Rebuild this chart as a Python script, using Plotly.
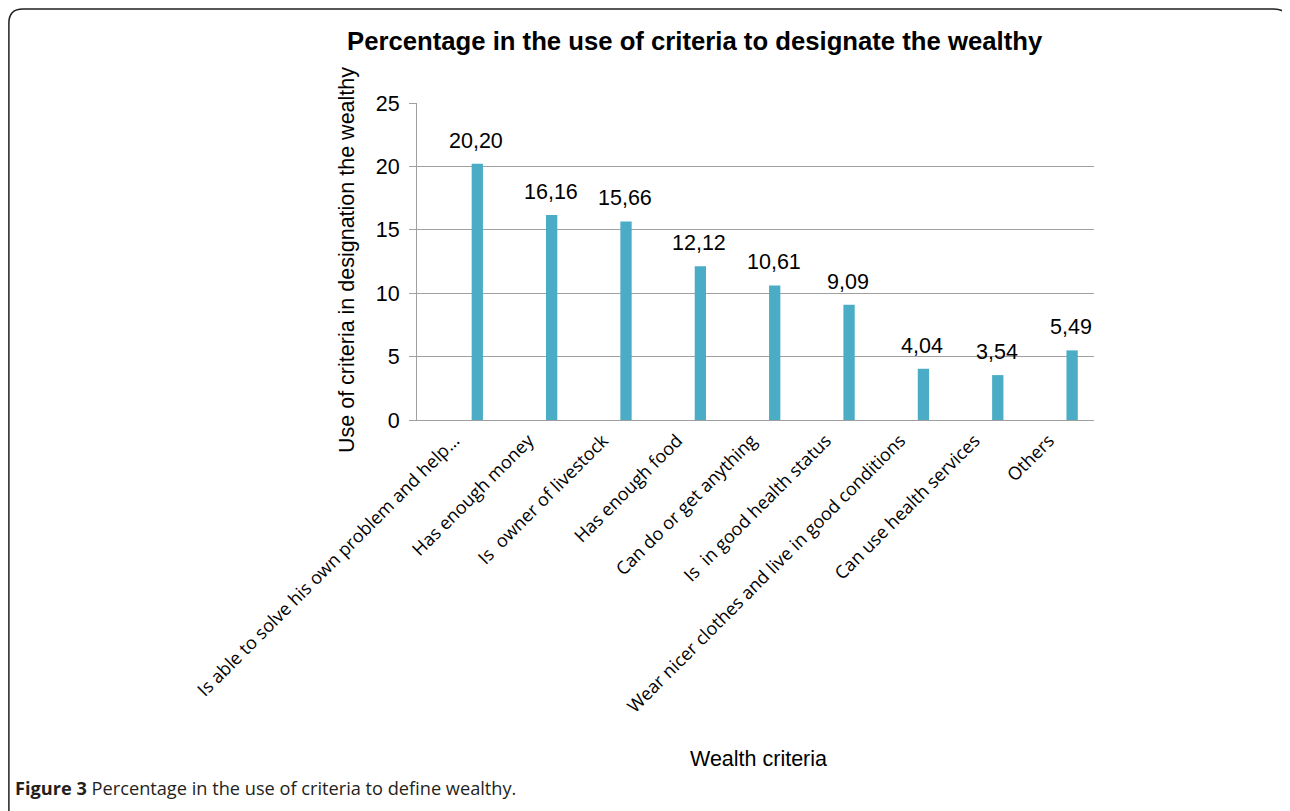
import plotly.graph_objects as go

categories = [
    "Is able to solve his own problem and help\u2026",
    "Has enough money",
    "Is\u00a0 owner of livestock",
    "Has enough food",
    "Can do or get anything",
    "Is\u00a0 in good health status",
    "Wear nicer clothes and live in good conditions",
    "Can use health services",
    "Others",
]
values = [20.20, 16.16, 15.66, 12.12, 10.61, 9.09, 4.04, 3.54, 5.49]
y_ticks = [0, 5, 10, 15, 20, 25]

# page body has an 8px margin; reference pixel coords are shifted by OFF
OFF = 8
W, H = 1290 - OFF, 811 - OFF
L, R, T, B = 417, 1094, 103, 420  # plot area in reference pixels


def px(x):
    return (x - L) / (R - L)


def py(y):
    return (B - y) / (B - T)


BAR_COLOR = "#4BACC6"
GRID = "#a0a0a0"
ARIAL = "Liberation Sans, Arial"

fig = go.Figure()
fig.add_trace(go.Bar(
    x=categories, y=values,
    width=0.152, offset=0.235,
    marker=dict(color=BAR_COLOR, line=dict(width=0)),
    hoverinfo="skip",
))

annotations = []
for c, v in zip(categories, values):
    annotations.append(dict(
        x=c, y=v, xref="x", yref="y",
        text=f"{v:.2f}".replace(".", ","),
        showarrow=False, xanchor="center", yanchor="bottom",
        xshift=22, yshift=9,
        font=dict(family=ARIAL, size=21.5, color="#000"),
    ))

annotations += [
    dict(x=px(695), y=py(41), xref="paper", yref="paper",
         text="<b>Percentage in the use of criteria to designate the wealthy</b>",
         showarrow=False, xanchor="center", yanchor="middle",
         font=dict(family=ARIAL, size=25.7, color="#000")),
    dict(x=px(347), y=py(260), xref="paper", yref="paper",
         text="Use of criteria in designation the wealthy", textangle=-90,
         showarrow=False, xanchor="center", yanchor="middle",
         font=dict(family=ARIAL, size=21.5, color="#000")),
    dict(x=px(758), y=py(759), xref="paper", yref="paper",
         text="Wealth criteria",
         showarrow=False, xanchor="center", yanchor="middle",
         font=dict(family=ARIAL, size=21.5, color="#000")),
    dict(x=px(13), y=py(788), xref="paper", yref="paper",
         text="<b>Figure 3</b> Percentage in the use of criteria to define wealthy.",
         showarrow=False, xanchor="left", yanchor="middle",
         font=dict(family="Open Sans", size=18.2, color="#231f20")),
]

x0, x1, y0, y1, r = 8.9, 1288, 8.9, 840, 14
path = (f"M {px(x0)},{py(y1)} L {px(x0)},{py(y0 + r)} "
        f"Q {px(x0)},{py(y0)} {px(x0 + r)},{py(y0)} "
        f"L {px(x1 - r)},{py(y0)} "
        f"Q {px(x1)},{py(y0)} {px(x1)},{py(y0 + r)} "
        f"L {px(x1)},{py(y1)}")

fig.update_layout(
    width=W, height=H,
    margin=dict(l=L - OFF, r=W - (R - OFF), t=T - OFF, b=H - (B - OFF),
                autoexpand=False),
    paper_bgcolor="white", plot_bgcolor="white",
    showlegend=False,
    annotations=annotations,
    shapes=[dict(type="path", path=path, xref="paper", yref="paper",
                 line=dict(color="#231f20", width=1.5), layer="above")],
    xaxis=dict(
        type="category", tickangle=-45,
        tickfont=dict(family="Open Sans", size=18, color="#000"),
        showline=True, linecolor=GRID, linewidth=1,
        ticks="outside", ticklen=2, tickcolor="rgba(0,0,0,0)",
        showgrid=False, fixedrange=True,
    ),
    yaxis=dict(
        range=[0, 25], tickvals=y_ticks,
        tickfont=dict(family=ARIAL, size=21.5, color="#000"),
        showline=True, linecolor=GRID, linewidth=1,
        ticks="outside", ticklen=7, tickcolor=GRID,
        ticklabelstandoff=5,
        showgrid=True, gridcolor=GRID, gridwidth=1,
        zeroline=False, fixedrange=True,
    ),
)

fig.write_html("out.html")
